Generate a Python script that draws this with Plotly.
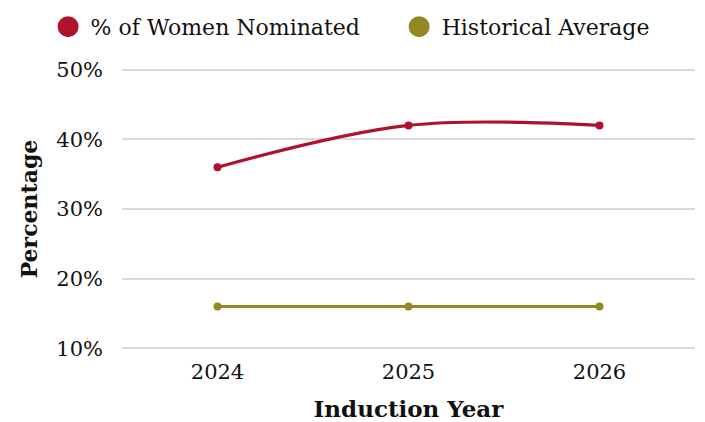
import plotly.graph_objects as go

years = ["2024", "2025", "2026"]
women_pct = [36, 42, 42]
historical_avg = [16, 16, 16]
y_ticks = [10, 20, 30, 40, 50]
y_tick_labels = ["10%", "20%", "30%", "40%", "50%"]

RED = "#B0122D"
OLIVE = "#948823"
FONT = "DejaVu Serif"

fig = go.Figure()
fig.add_trace(go.Scatter(
    x=years, y=women_pct, mode="lines+markers", name="% of Women Nominated",
    line=dict(color=RED, width=3.2, shape="spline", smoothing=1),
    marker=dict(color=RED, size=8), showlegend=False, legendgroup="w",
))
fig.add_trace(go.Scatter(
    x=years, y=historical_avg, mode="lines+markers", name="Historical Average",
    line=dict(color=OLIVE, width=3.2, shape="spline", smoothing=1),
    marker=dict(color=OLIVE, size=8), showlegend=False, legendgroup="h",
))
# legend entries (big circles)
fig.add_trace(go.Scatter(
    x=[None], y=[None], mode="markers", name="% of Women Nominated",
    marker=dict(color=RED, size=16, line=dict(color=RED, width=5)),
    legendgroup="w", legend="legend",
))
fig.add_trace(go.Scatter(
    x=[None], y=[None], mode="markers", name="Historical Average",
    marker=dict(color=OLIVE, size=16, line=dict(color=OLIVE, width=5)),
    legendgroup="h", legend="legend2",
))

legend_common = dict(
    orientation="h", xanchor="left", y=1.146, yanchor="middle",
    itemwidth=35, font=dict(family=FONT, size=22, color="#111111"),
    bgcolor="rgba(0,0,0,0)",
)

fig.update_layout(
    width=705, height=422,
    margin=dict(l=122, r=10, t=68, b=72, autoexpand=False),
    paper_bgcolor="white", plot_bgcolor="white",
    font=dict(family=FONT, size=21, color="#111111"),
    legend=dict(x=-0.1333, **legend_common),
    legend2=dict(x=0.4793, **legend_common),
    xaxis=dict(
        type="category", range=[-0.5, 2.5], showgrid=False, zeroline=False,
        showline=False, ticks="", tickfont=dict(size=21), ticklabelstandoff=7,
        title=dict(text="<b>Induction Year</b>", font=dict(size=23), standoff=20),
    ),
    yaxis=dict(
        range=[9.75, 50.25], tickvals=y_ticks, ticktext=y_tick_labels,
        showgrid=True, gridcolor="#D9D9D9", gridwidth=1.5, zeroline=False,
        showline=False, ticks="", tickfont=dict(size=21), ticklabelstandoff=18,
        title=dict(text="<b>Percentage</b>", font=dict(size=22), standoff=12),
    ),
)

fig.write_html("out.html", config={"displayModeBar": False},
               post_script="document.body.style.margin='0';")
